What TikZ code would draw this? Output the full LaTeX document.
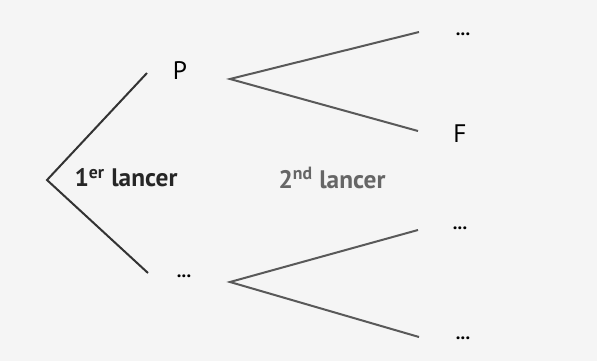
\documentclass[tikz,border=0pt]{standalone}
\usepackage{fontspec}
\setmainfont{PT Sans}
\usepackage{tikz}

\tikzset{
  issue/.style={font=\fontsize{19}{22}\selectfont, inner sep=0pt},
  dots/.style={font=\fontsize{14}{16}\selectfont\bfseries, inner sep=0pt},
  lancer/.style={font=\fontsize{19}{22}\selectfont\bfseries, inner sep=0pt},
  branch1/.style={color=black!80, line width=1.5pt},
  branch2/.style={color=black!65, line width=1.5pt}
}

\begin{document}
\begin{tikzpicture}[x=0.75pt, y=-0.75pt]

% background of the scan
\fill[color=white!96!black] (0, 0) rectangle (597, 361);

% first throw
\coordinate (root) at (47, 180);
\coordinate (up1) at (147, 73);
\coordinate (down1) at (148, 273);
\node[issue] (P) at (180, 71) {P};
\node[dots] (D1) at (184, 276) {...};

\draw[branch1] (up1) -- (root) -- (down1);

% second throw, after P
\coordinate (forkP) at (230, 79);
\coordinate (PP) at (419, 32);
\coordinate (PF) at (418, 131);
\node[dots] (PPdots) at (463, 34) {...};
\node[issue] (F) at (460, 134) {F};

\draw[branch2] (PP) -- (forkP) -- (PF);

% second throw, after ...
\coordinate (forkD) at (230, 282);
\coordinate (DP) at (418, 230);
\coordinate (DF) at (419, 337);
\node[dots] (DPdots) at (460, 228) {...};
\node[dots] (DFdots) at (463, 338) {...};

\draw[branch2] (DP) -- (forkD) -- (DF);

% labels
\node[lancer, color=black!85] (first) at (126, 178) {1\textsuperscript{er} lancer};
\node[lancer, color=black!60] (second) at (332, 178) {2\textsuperscript{nd} lancer};

\end{tikzpicture}
\end{document}
